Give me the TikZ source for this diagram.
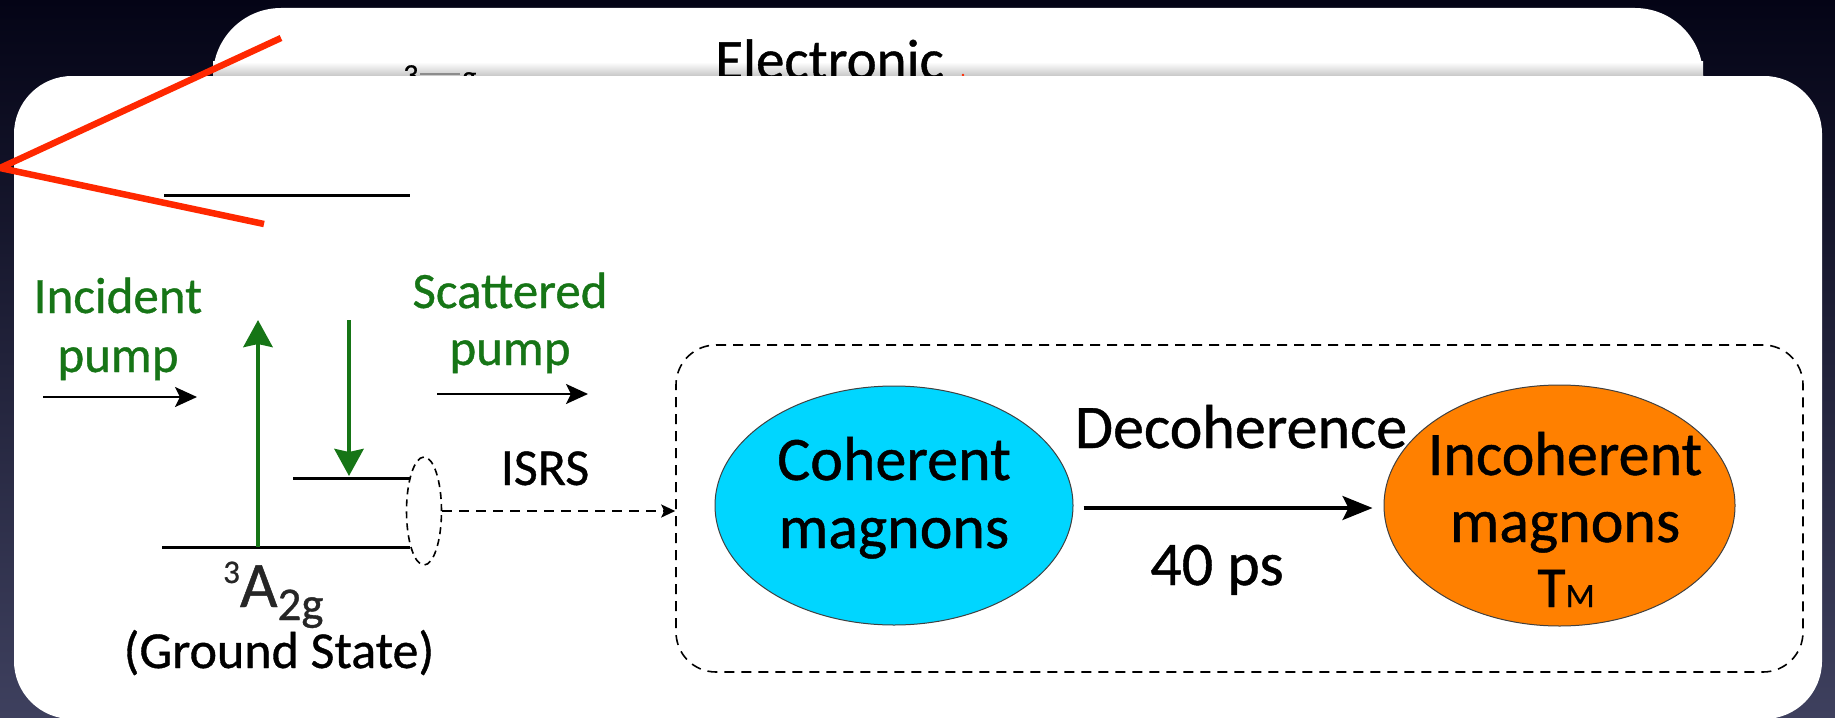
\documentclass[tikz,border=0pt]{standalone}
\usepackage{fontspec}
\usepackage{graphicx}
\setmainfont{Carlito}[FakeBold=0.7]
\usetikzlibrary{shapes.geometric,arrows.meta}
\definecolor{bgtop}{RGB}{4,4,22}
\definecolor{bgbot}{RGB}{62,64,94}
\definecolor{laser}{RGB}{255,40,0}
\definecolor{pumpgreen}{RGB}{22,117,22}
\definecolor{cohcyan}{RGB}{0,214,255}
\definecolor{incorange}{RGB}{255,128,0}
\newcommand{\fsz}[1]{\fontsize{#1}{#1}\selectfont}
\tikzset{
  card/.style={fill=white},
  level/.style={line width=3pt, black},
  garrow/.style={line width=4.5pt, pumpgreen, -{Stealth[length=27pt,width=29pt,inset=3pt]}},
  karrow/.style={line width=2.4pt, black, -{Stealth[length=22pt,width=20pt,inset=5pt]}},
  bigarrow/.style={line width=3.2pt, black, -{Stealth[length=30pt,width=24pt,inset=6pt]}},
  dasharrow/.style={line width=2.2pt, black, dash pattern=on 10pt off 7pt, -{Stealth[length=14pt,width=13pt,inset=3pt]}},
  laserline/.style={line width=6.5pt, laser},
  gtext/.style={font=\fsz{51}, text=pumpgreen, inner sep=0},
  ktext/.style={font=\fsz{62}, text=black, inner sep=0},
  blob/.style={ellipse, draw=black!75, line width=1pt, inner sep=0},
}
\begin{document}
\begin{tikzpicture}[x=1pt,y=-1pt]
\useasboundingbox (0,0) rectangle (1835,717);
% background
\shade[top color=bgtop, bottom color=bgbot] (0,0) rectangle (1835,717);
% back card
\fill[card, rounded corners=68] (213,8) rectangle (1703,300);
\shade[top color=white, bottom color=black!22] (213,62) rectangle (1703,76);
\node[font=\fsz{57}, anchor=base west, inner sep=0] (elec) at (715,79) {Electronic};
\node[font=\fsz{30}, anchor=north west, inner sep=0] (frag3) at (403,65) {3};
\coordinate (fragl0) at (420,74);
\coordinate (fragl1) at (460,74);
\draw[black!45, line width=1.5pt] (fragl0) -- (fragl1);
\node[font=\fsz{30}, anchor=north west, inner sep=0] (fragg) at (462,72) {g};
\fill[laser] (963,75) circle (1.3);
% front card
\fill[card, rounded corners=58] (14,76) rectangle (1822,719);
% top level
\coordinate (t0) at (164,195);
\coordinate (t1) at (410,195);
\draw[level] (t0) -- (t1);
% levels
\coordinate (g0) at (162,547);
\coordinate (g1) at (410,547);
\coordinate (u0) at (293,478);
\coordinate (u1) at (410,478);
\draw[level] (g0) -- (g1);
\draw[level] (u0) -- (u1);
\node[ellipse, draw=black, line width=1.6pt, dash pattern=on 7pt off 5pt, minimum width=35, minimum height=108, inner sep=0] (ring) at (424,511) {};
% green transitions
\coordinate (upfoot) at (258,547);
\coordinate (uptip) at (258,320);
\coordinate (dntop) at (349,320);
\coordinate (dntip) at (349,476);
\draw[garrow] (upfoot) -- (uptip);
\draw[garrow] (dntop) -- (dntip);
% pump labels and arrows
\node[gtext, anchor=base] (inc1) at (118,313) {Incident};
\node[gtext, anchor=base] (inc2) at (118,372) {pump};
\node[gtext, anchor=base] (sca1) at (510,308) {Scattered};
\node[gtext, anchor=base] (sca2) at (510,365) {pump};
\coordinate (ia0) at (43,397);
\coordinate (ia1) at (197,397);
\coordinate (sa0) at (437,394);
\coordinate (sa1) at (588,394);
\draw[karrow] (ia0) -- (ia1);
\draw[karrow] (sa0) -- (sa1);
% ground state label
\node[anchor=base west, inner sep=0, text=black!85] (term) at (223,607)
  {{\fsz{33}\raisebox{24pt}{3}}{\fsz{65}A}{\fsz{47}\raisebox{-13pt}{2g}}};
\node[font=\fsz{52}, anchor=base, inner sep=0] (gs) at (279,668) {(Ground State)};
% ISRS
\node[font=\fsz{52}, anchor=base, inner sep=0] (isrs) at (545,485) {ISRS};
% dashed box
\node[draw=black, line width=1.6pt, dash pattern=on 10pt off 7pt, rounded corners=40,
      minimum width=1127, minimum height=327, inner sep=0] (box) at (1239.5,508.5) {};
\draw[dasharrow] (ring.east) -- (ring.east -| box.west);
% magnon blobs
\node[blob, fill=cohcyan, minimum width=358, minimum height=239] (coh) at (894,505.5) {};
\node[blob, fill=incorange, minimum width=351, minimum height=241] (inc) at (1559.5,505.5) {};
\draw[bigarrow, shorten <=10pt, shorten >=11pt] (coh.east |- 0,508) -- (inc.west |- 0,508);
\node[ktext, anchor=base] (coh1) at (894,480) {Coherent};
\node[ktext, anchor=base] (coh2) at (894,548) {magnons};
\node[ktext, anchor=base] (inc1t) at (1565,475) {Incoherent};
\node[ktext, anchor=base] (inc2t) at (1565,542) {magnons};
\node[anchor=base, inner sep=0] (tm) at (1566,607) {{\fsz{58}T}{\fsz{34}M}};
\node[ktext, anchor=base] (deco) at (1241,448) {Decoherence};
\node[ktext, anchor=base] (ps) at (1217,585) {40 ps};
% laser beams
\coordinate (lbeam0) at (281,38);
\coordinate (lvertex) at (0,168);
\coordinate (lbeam1) at (264,224);
\draw[laserline] (lbeam0) -- (lvertex) -- (lbeam1);
\end{tikzpicture}
\end{document}
